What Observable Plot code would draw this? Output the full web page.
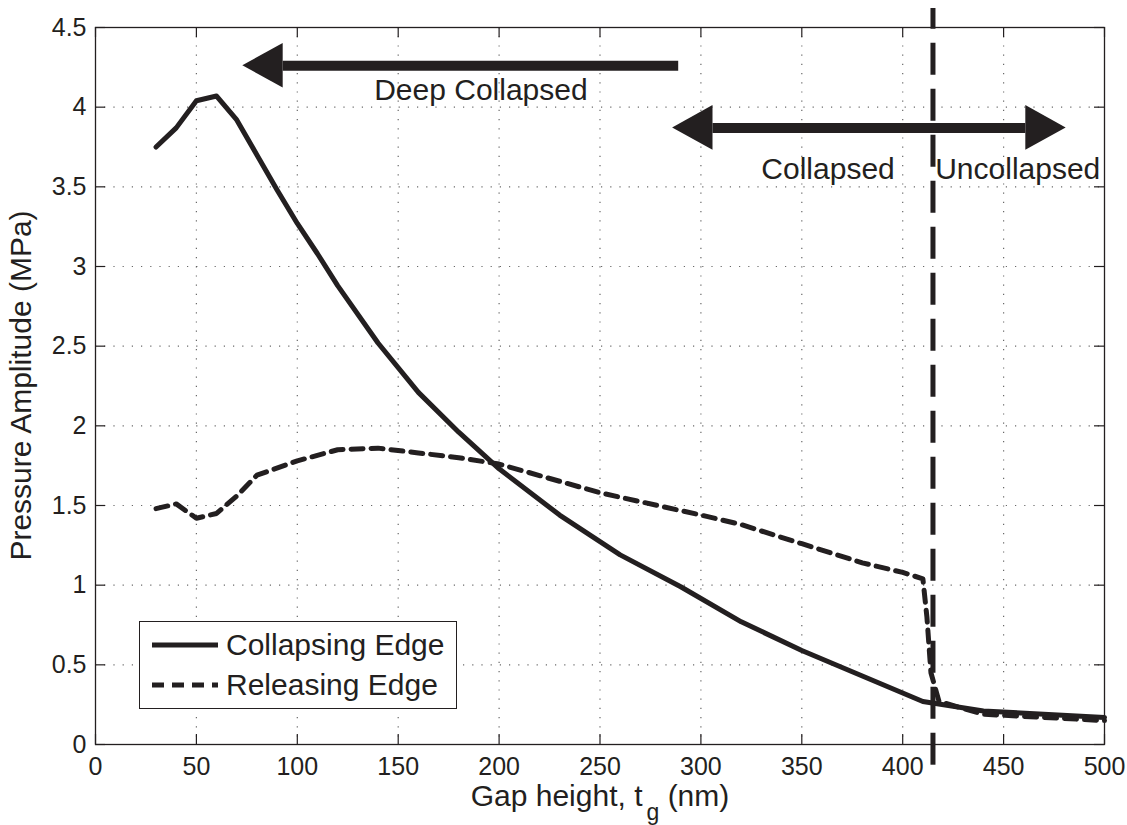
<!DOCTYPE html>
<html>
<head>
<meta charset="utf-8">
<script src="https://cdn.jsdelivr.net/npm/d3@7"></script>
<script src="https://cdn.jsdelivr.net/npm/@observablehq/plot@0.6"></script>
<style>
  body { margin: 0; background: #fff; }
  #chart { position: relative; width: 1127px; height: 825px; font-family: "Liberation Sans", Arial, Helvetica, sans-serif; color: #231f20; }
  #legend { position: absolute; left: 139px; top: 621px; width: 316px; height: 86px; border: 1.5px solid #231f20; background: #fff; }
  #legend .row { position: absolute; left: 12px; height: 40px; display: flex; align-items: center; font-size: 30px; }
  #legend svg { margin-right: 8px; }
</style>
</head>
<body>
<div id="chart"></div>
<script>
// Pressure amplitude (MPa) along the collapsing edge, by gap height (nm)
const collapsingGap = [30, 40, 50, 60, 70, 80, 90, 100, 110, 120, 140, 160, 180, 200, 230, 260, 290, 320, 350, 380, 410, 440, 500];
const collapsingAmp = [3.75, 3.87, 4.04, 4.07, 3.92, 3.70, 3.48, 3.27, 3.08, 2.88, 2.52, 2.21, 1.96, 1.73, 1.44, 1.19, 0.99, 0.77, 0.59, 0.43, 0.27, 0.21, 0.17];

// Pressure amplitude (MPa) along the releasing edge
const releasingGap = [30, 40, 50, 60, 70, 80, 100, 120, 140, 160, 180, 200, 250, 300, 320, 350, 380, 400, 410, 412, 414, 418, 440, 500];
const releasingAmp = [1.48, 1.51, 1.42, 1.45, 1.56, 1.69, 1.78, 1.85, 1.86, 1.83, 1.80, 1.76, 1.58, 1.44, 1.38, 1.26, 1.14, 1.08, 1.04, 0.80, 0.45, 0.27, 0.19, 0.15];

// Collapse transition gap height (nm)
const transitionGap = 415;

// Region arrows: tail, tip, height, and whether both ends get a head
const arrowTail = [289, 286];
const arrowTip = [73, 481];
const arrowAmp = [4.26, 3.87];
const arrowDouble = [false, true];

// Region labels
const regionLabels = ["Deep Collapsed", "Collapsed", "Uncollapsed"];
const regionGap = [191, 363, 457];
const regionAmp = [4.105, 3.607, 3.607];

// Axis ticks
const xTicks = d3.range(0, 501, 50);
const yTicks = d3.range(0, 9.5, 1).map(d => d / 2);

const legendLabels = ["Collapsing Edge", "Releasing Edge"];

const W = 1127, H = 825;
const mL = 95, mR = 23, mT = 27, mB = 81;
const plotW = W - mL - mR, plotH = H - mT - mB;
const ink = "#231f20";
const font = "'Liberation Sans', Arial, Helvetica, sans-serif";
const dashCurve = "12,8";

const collapsing = collapsingGap.map((g, i) => ({gap: g, amp: collapsingAmp[i]}));
const releasing = releasingGap.map((g, i) => ({gap: g, amp: releasingAmp[i]}));

// Arrow shafts and filled heads built from the arrow arrays
const headLen = 20, headHalf = 0.14;
const shafts = [], heads = [];
arrowTail.forEach((tail, i) => {
  const tip = arrowTip[i], y = arrowAmp[i];
  const dir = Math.sign(tip - tail);
  const x1 = arrowDouble[i] ? tail + dir * headLen : tail;
  const x2 = tip - dir * headLen;
  shafts.push({x1, x2, y});
  const ends = arrowDouble[i] ? [[tip, dir], [tail, -dir]] : [[tip, dir]];
  ends.forEach(([t, d], j) => {
    const id = `${i}-${j}`;
    heads.push({id, x: t, y1: y, y2: y});
    heads.push({id, x: t - d * headLen, y1: y - headHalf, y2: y + headHalf});
  });
});

const regions = regionLabels.map((t, i) => ({text: t, gap: regionGap[i], amp: regionAmp[i]}));

const gridStyle = {stroke: "#444", strokeOpacity: 0.8, strokeWidth: 1.2, strokeDasharray: "1.2,8"};

const svg = Plot.plot({
  width: W,
  height: H,
  marginLeft: mL,
  marginRight: mR,
  marginTop: mT,
  marginBottom: mB,
  style: {fontFamily: font, fontSize: "25px", color: ink, background: "#fff", overflow: "visible"},
  x: {domain: [0, 500]},
  y: {domain: [0, 4.5]},
  marks: [
    Plot.gridX(xTicks.slice(1, -1), gridStyle),
    Plot.gridY(yTicks.slice(1, -1), gridStyle),
    Plot.axisX({ticks: xTicks, tickSize: 0, tickPadding: 13, label: null, tickFormat: d => String(d), fill: ink}),
    Plot.axisY({ticks: yTicks, tickSize: 0, tickPadding: 9, label: null, tickFormat: d => String(d), fill: ink}),
    Plot.line(collapsing, {x: "gap", y: "amp", stroke: ink, strokeWidth: 5}),
    Plot.line(releasing, {x: "gap", y: "amp", stroke: ink, strokeWidth: 5, strokeDasharray: dashCurve}),
    Plot.ruleX([transitionGap], {y1: -0.13, y2: 4.62, stroke: ink, strokeWidth: 5, strokeDasharray: "32,14"}),
    Plot.ruleY(shafts, {x1: "x1", x2: "x2", y: "y", stroke: ink, strokeWidth: 10}),
    Plot.areaY(heads, {x: "x", y1: "y1", y2: "y2", z: "id", fill: ink}),
    Plot.text(regions, {x: "gap", y: "amp", text: "text", textAnchor: "middle", fontSize: 30, fill: ink}),
    Plot.frame({stroke: ink, strokeWidth: 1.3}),
    Plot.tickX(xTicks, {x: d => d, insetTop: plotH - 10, stroke: ink, strokeWidth: 1.2}),
    Plot.tickX(xTicks, {x: d => d, insetBottom: plotH - 10, stroke: ink, strokeWidth: 1.2}),
    Plot.tickY(yTicks, {y: d => d, insetRight: plotW - 10, stroke: ink, strokeWidth: 1.2}),
    Plot.tickY(yTicks, {y: d => d, insetLeft: plotW - 10, stroke: ink, strokeWidth: 1.2})
  ]
});

// Axis titles (x title carries a subscript)
const s = d3.select(svg);
const xt = s.append("text")
  .attr("x", 600)
  .attr("y", 806)
  .attr("text-anchor", "middle")
  .attr("fill", ink)
  .style("font-size", "30px");
xt.append("tspan").text("Gap height, t");
xt.append("tspan").attr("dx", 4).attr("dy", 14).style("font-size", "23px").text("g");
xt.append("tspan").attr("dy", -14).text(" (nm)");

s.append("text")
  .attr("transform", `translate(31,${mT + plotH / 2}) rotate(-90)`)
  .attr("text-anchor", "middle")
  .attr("fill", ink)
  .style("font-size", "30px")
  .text("Pressure Amplitude (MPa)");

const chart = document.getElementById("chart");
chart.appendChild(svg);

// Legend box drawn over the lower-left of the plot
const legend = document.createElement("div");
legend.id = "legend";
legendLabels.forEach((label, i) => {
  const row = document.createElement("div");
  row.className = "row";
  row.style.top = `${3 + i * 40}px`;
  const dash = i === 0 ? "" : `stroke-dasharray="12,8"`;
  row.innerHTML = `<svg width="66" height="10"><line x1="0" x2="66" y1="5" y2="5" stroke="${ink}" stroke-width="5" ${dash}/></svg><span>${label}</span>`;
  legend.appendChild(row);
});
chart.appendChild(legend);
</script>
</body>
</html>
